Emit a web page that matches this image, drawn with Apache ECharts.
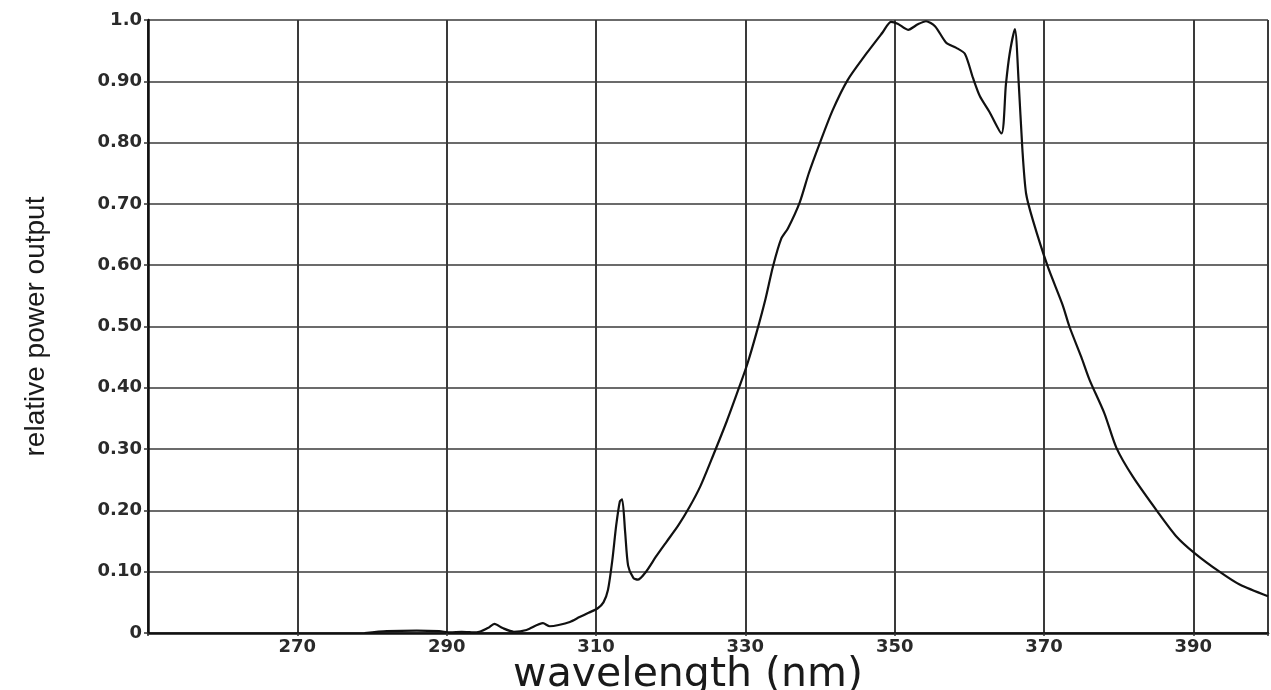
<!DOCTYPE html>
<html>
<head>
<meta charset="utf-8">
<script src="https://cdn.jsdelivr.net/npm/echarts@6/dist/echarts.min.js"></script>
<style>
html,body{margin:0;padding:0;background:#fff;}
#chart{width:1271px;height:690px;}
</style>
</head>
<body>
<div id="chart"></div>
<script>
// Wavelength (nm) samples
var wavelengths = [279, 282, 286, 289, 290.5, 292, 294, 295.5, 296.4, 297.5, 299, 300.7, 302.9, 303.8, 305, 306.5, 307.8, 309, 310.2, 311, 311.6, 312.2, 312.7, 313.2, 313.5, 313.9, 314.3, 315, 315.6, 316.7, 318, 319.4, 321, 322.5, 324, 325.7, 327.5, 329.3, 330.3, 331.5, 332.7, 333.7, 334.8, 335.7, 337.3, 338.5, 340, 341.7, 343.7, 346.2, 348.4, 349.5, 350.4, 351.8, 353.1, 354.2, 355.4, 356.9, 358.2, 359.4, 360.5, 361.4, 362.7, 364.3, 364.9, 365.4, 366.1, 366.6, 367.1, 367.6, 368.5, 370.5, 372.5, 373.4, 375, 376.1, 378.1, 379.7, 381.9, 385.2, 387.7, 390.2, 393.5, 396.2, 400];
// Relative power output at each wavelength
var power = [0.000, 0.003, 0.004, 0.003, 0.001, 0.002, 0.001, 0.008, 0.015, 0.008, 0.002, 0.005, 0.016, 0.011, 0.013, 0.018, 0.026, 0.033, 0.040, 0.050, 0.070, 0.120, 0.175, 0.215, 0.218, 0.165, 0.110, 0.090, 0.087, 0.100, 0.124, 0.148, 0.175, 0.205, 0.240, 0.290, 0.345, 0.405, 0.440, 0.490, 0.545, 0.598, 0.643, 0.660, 0.703, 0.750, 0.800, 0.853, 0.902, 0.945, 0.980, 0.997, 0.994, 0.984, 0.993, 0.998, 0.990, 0.963, 0.955, 0.945, 0.905, 0.876, 0.850, 0.815, 0.895, 0.945, 0.985, 0.900, 0.790, 0.717, 0.674, 0.598, 0.535, 0.500, 0.450, 0.413, 0.358, 0.302, 0.255, 0.198, 0.158, 0.130, 0.100, 0.079, 0.060];
// Tick labels
var xTickLabels = ['270', '290', '310', '330', '350', '370', '390'];
var yTickLabels = ['0', '0.10', '0.20', '0.30', '0.40', '0.50', '0.60', '0.70', '0.80', '0.90', '1.0'];
var xTitle = 'wavelength (nm)';
var yTitle = 'relative power output';

var seriesData = wavelengths.map(function (w, i) { return [w, power[i]]; });

var chart = echarts.init(document.getElementById('chart'));
chart.setOption({
  backgroundColor: '#ffffff',
  animation: false,
  grid: { left: 148, right: 3, top: 20, bottom: 57, containLabel: false, outerBoundsMode: 'none' },
  xAxis: {
    type: 'value',
    min: 250,
    max: 400,
    interval: 20,
    name: xTitle,
    nameLocation: 'middle',
    nameGap: 22,
    nameMoveOverlap: false,
    nameTextStyle: { fontFamily: 'DejaVu Sans', fontSize: 41, color: '#1a1a1a', padding: [0, 40, 0, 0] },
    axisLine: { show: true, lineStyle: { color: '#111', width: 2.5 } },
    axisTick: { show: true, length: 3, lineStyle: { color: '#333', width: 1.5 } },
    axisLabel: {
      margin: 5,
      fontFamily: 'DejaVu Sans',
      fontWeight: 'bold',
      fontSize: 18,
      color: '#2a2a2a',
      formatter: function (v) {
        var s = String(Math.round(v));
        return xTickLabels.indexOf(s) >= 0 ? s : '';
      }
    },
    splitLine: { show: true, lineStyle: { color: '#3a3a3a', width: 2 } }
  },
  yAxis: {
    type: 'value',
    min: 0,
    max: 1,
    interval: 0.1,
    name: yTitle,
    nameLocation: 'middle',
    nameGap: 98,
    nameMoveOverlap: false,
    nameTextStyle: { fontFamily: "'Liberation Sans', Arial, sans-serif", fontSize: 28, color: '#1a1a1a' },
    axisLine: { show: true, lineStyle: { color: '#111', width: 2.5 } },
    axisTick: { show: true, length: 4, lineStyle: { color: '#333', width: 1.5 } },
    axisLabel: {
      margin: 6,
      fontFamily: 'DejaVu Sans',
      fontWeight: 'bold',
      fontSize: 18,
      color: '#2a2a2a',
      formatter: function (v) {
        var idx = Math.round(v * 10);
        return yTickLabels[idx] !== undefined ? yTickLabels[idx] : '';
      }
    },
    splitLine: { show: true, lineStyle: { color: '#3a3a3a', width: 1.5 } }
  },
  series: [{
    type: 'line',
    data: seriesData,
    smooth: 0.25,
    showSymbol: false,
    symbol: 'none',
    lineStyle: { color: '#111', width: 2.2 },
    z: 5
  }]
});
</script>
</body>
</html>
